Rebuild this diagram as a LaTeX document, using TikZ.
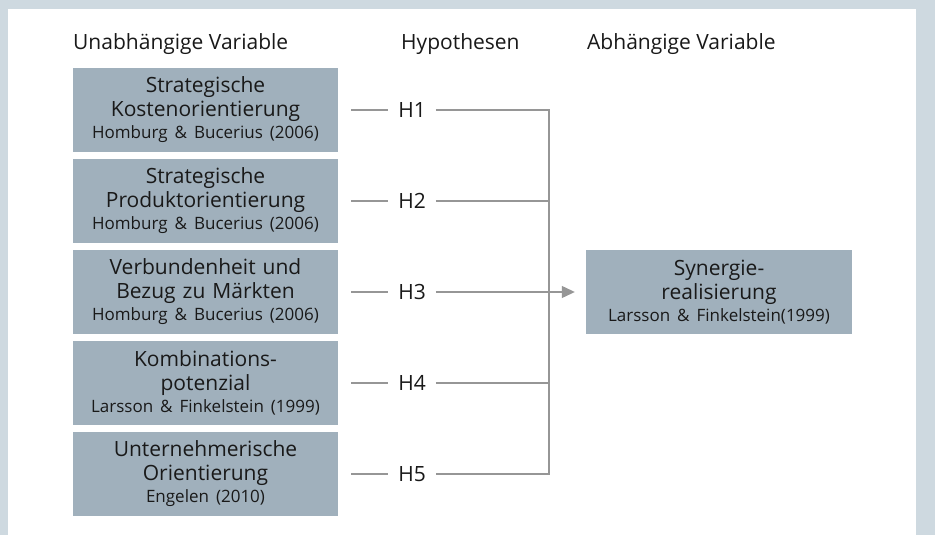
\documentclass[tikz,border=0pt]{standalone}
\usepackage{fontspec}
\setmainfont{Open Sans}
\usetikzlibrary{arrows.meta}

\definecolor{boxfill}{RGB}{160,176,188}
\definecolor{framebg}{RGB}{206,217,224}
\definecolor{linegray}{RGB}{150,150,150}
\definecolor{textdark}{RGB}{25,25,25}

\newcommand{\titlefont}{\fontsize{21}{24}\selectfont}
\newcommand{\citefont}{\fontsize{17}{22}\selectfont}

\tikzset{
  varbox/.style={shape=rectangle,fill=boxfill,text=textdark,text width=265pt,
    minimum height=84pt,inner sep=0pt,align=center,font=\titlefont},
  hyp/.style={inner xsep=10pt,inner ysep=0pt,text=textdark,font=\titlefont},
  head/.style={anchor=base west,inner sep=0pt,text=textdark,font=\titlefont},
  conn/.style={draw=linegray,line width=1.2pt},
}

\begin{document}
\begin{tikzpicture}[x=1pt,y=-1pt]
  \useasboundingbox (0,0) rectangle (935,535);
  \fill[framebg] (0,0) rectangle (935,535);
  \fill[white] (8,9) rectangle (916,535);

  \node[head] (UV) at (73,50) {Unabhängige Variable};
  \node[head] (HY) at (401,50) {Hypothesen};
  \node[head] (AV) at (587,50) {Abhängige Variable};

  \node[varbox] (A) at (205.5,110) {Strategische\\Kostenorientierung\\[-2pt]{\citefont Homburg \& Bucerius (2006)}};
  \node[varbox] (B) at (205.5,201) {Strategische\\Produktorientierung\\[-2pt]{\citefont Homburg \& Bucerius (2006)}};
  \node[varbox] (C) at (205.5,292) {Verbundenheit und\\Bezug zu Märkten\\[-2pt]{\citefont Homburg \& Bucerius (2006)}};
  \node[varbox] (D) at (205.5,383) {Kombinations-\\potenzial\\[-2pt]{\citefont Larsson \& Finkelstein (1999)}};
  \node[varbox] (E) at (205.5,474) {Unternehmerische\\Orientierung\\[-2pt]{\citefont Engelen (2010)}};

  \node[varbox,text width=266pt] (F) at (719,292) {Synergie-\\realisierung\\[-2pt]{\citefont Larsson \& Finkelstein(1999)}};

  \node[hyp] (H1) at (412,110) {H1};
  \node[hyp] (H2) at (412,201) {H2};
  \node[hyp] (H3) at (412,292) {H3};
  \node[hyp] (H4) at (412,383) {H4};
  \node[hyp] (H5) at (412,474) {H5};

  \coordinate (J) at (549,474);

  \draw[conn,shorten <=13pt] (A) -- (H1);
  \draw[conn,shorten <=13pt] (B) -- (H2);
  \draw[conn,shorten <=13pt] (C) -- (H3);
  \draw[conn,shorten <=13pt] (D) -- (H4);
  \draw[conn,shorten <=13pt] (E) -- (H5);

  \draw[conn] (H1) -| (J) -- (H5);
  \draw[conn] (H2) -- (H2 -| J);
  \draw[conn] (H4) -- (H4 -| J);
  \draw[conn,-{Triangle[length=13pt,width=12pt]},shorten >=11pt] (H3) -- (F);
\end{tikzpicture}
\end{document}
